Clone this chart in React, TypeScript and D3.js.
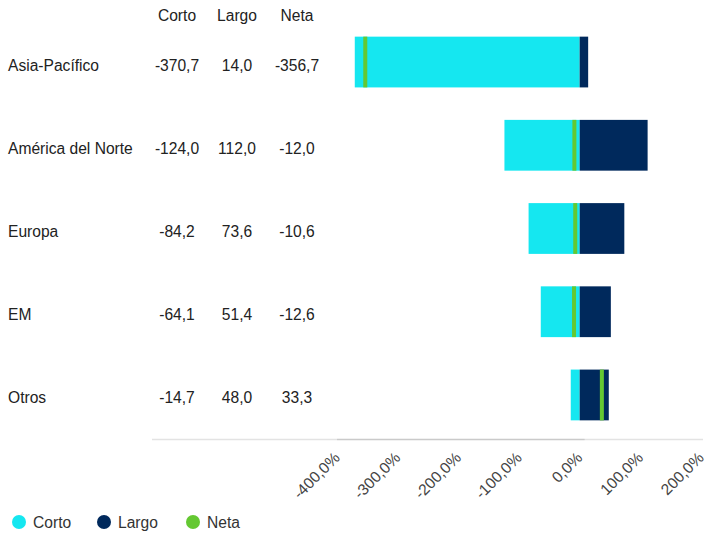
import React, { useEffect, useRef } from 'react';
import * as d3 from 'd3';

// data
const regions = ['Asia-Pacífico', 'América del Norte', 'Europa', 'EM', 'Otros'];
const corto = [-370.7, -124.0, -84.2, -64.1, -14.7];
const largo = [14.0, 112.0, 73.6, 51.4, 48.0];
const neta = [-356.7, -12.0, -10.6, -12.6, 33.3];
const ticks = [-400, -300, -200, -100, 0, 100, 200];
const seriesNames = ['Corto', 'Largo', 'Neta'];
const colors = ['#15e7f0', '#00295c', '#64c832'];

const fmt = (v: number) => d3.format('.1f')(v).replace('.', ',').replace('−', '-');

const App = () => {
  const ref = useRef<SVGSVGElement>(null);

  useEffect(() => {
    const width = 707;
    const height = 534;
    const svg = d3.select(ref.current);
    svg.selectAll('*').remove();
    svg.attr('width', width).attr('height', height);

    const font = 'Liberation Sans, Arial, sans-serif';
    const fs = '15.6px';

    var x = d3.scaleLinear().domain([-400, 200]).range([337, 701]);
    var y = d3.scaleBand<string>().domain(regions).range([20, 437])
      .paddingInner(0.39).paddingOuter(0.2);

    // table header
    const cols = [177, 237, 297];
    svg.append('g').selectAll('text')
      .data(seriesNames)
      .enter().append('text')
      .attr('x', (d, i) => cols[i])
      .attr('y', 21)
      .attr('text-anchor', 'middle')
      .style('font-family', font)
      .style('font-size', fs)
      .attr('fill', '#222')
      .text(d => d);

    // rows
    const rows = svg.append('g').selectAll('g')
      .data(regions)
      .enter().append('g')
      .attr('transform', d => 'translate(0,' + (y(d)! + y.bandwidth() / 2 + 8.5) + ')');

    rows.append('text')
      .attr('x', 8)
      .style('font-family', font)
      .style('font-size', fs)
      .attr('fill', '#222')
      .text(d => d);

    [corto, largo, neta].forEach((arr, j) => {
      rows.append('text')
        .attr('x', cols[j])
        .attr('text-anchor', 'middle')
        .style('font-family', font)
        .style('font-size', fs)
        .attr('fill', '#222')
        .text((d, i) => fmt(arr[i]));
    });

    // axis lines (table and plot overlap)
    svg.append('line')
      .attr('x1', 152).attr('x2', x(0) + 5).attr('y1', 439.5).attr('y2', 439.5)
      .attr('stroke', 'rgba(0,0,0,0.11)').attr('stroke-width', 1.5);
    svg.append('line')
      .attr('x1', x(-400)).attr('x2', 703).attr('y1', 439.5).attr('y2', 439.5)
      .attr('stroke', 'rgba(0,0,0,0.11)').attr('stroke-width', 1.5);

    // bars
    const bars = svg.append('g');
    bars.selectAll('.corto')
      .data(regions)
      .enter().append('rect')
      .attr('x', (d, i) => x(corto[i]))
      .attr('y', d => y(d)!)
      .attr('width', (d, i) => x(0) - x(corto[i]))
      .attr('height', y.bandwidth())
      .attr('fill', colors[0]);
    bars.selectAll('.largo')
      .data(regions)
      .enter().append('rect')
      .attr('x', x(0))
      .attr('y', d => y(d)!)
      .attr('width', (d, i) => x(largo[i]) - x(0))
      .attr('height', y.bandwidth())
      .attr('fill', colors[1]);
    bars.selectAll('.neta')
      .data(regions)
      .enter().append('rect')
      .attr('x', (d, i) => x(neta[i]))
      .attr('y', d => y(d)!)
      .attr('width', 4)
      .attr('height', y.bandwidth())
      .attr('fill', colors[2]);

    // tick labels
    svg.append('g').selectAll('text')
      .data(ticks)
      .enter().append('text')
      .attr('transform', d => 'translate(' + (x(d) - 4) + ',451) rotate(-45)')
      .attr('text-anchor', 'end')
      .attr('dy', '0.7em')
      .style('font-family', font)
      .style('font-size', fs)
      .attr('fill', '#444')
      .text(d => fmt(d) + '%');

    // legend
    const legX = [19, 104, 193];
    const leg = svg.append('g').selectAll('g')
      .data(seriesNames)
      .enter().append('g')
      .attr('transform', (d, i) => 'translate(' + legX[i] + ',522)');
    leg.append('circle').attr('r', 7).attr('fill', (d, i) => colors[i]);
    leg.append('text')
      .attr('x', 14)
      .attr('y', 5.5)
      .style('font-family', font)
      .style('font-size', fs)
      .attr('fill', '#333')
      .text(d => d);
  }, []);

  return <svg ref={ref} style={{ position: 'absolute', left: 0, top: 0 }} />;
};

export default App;
